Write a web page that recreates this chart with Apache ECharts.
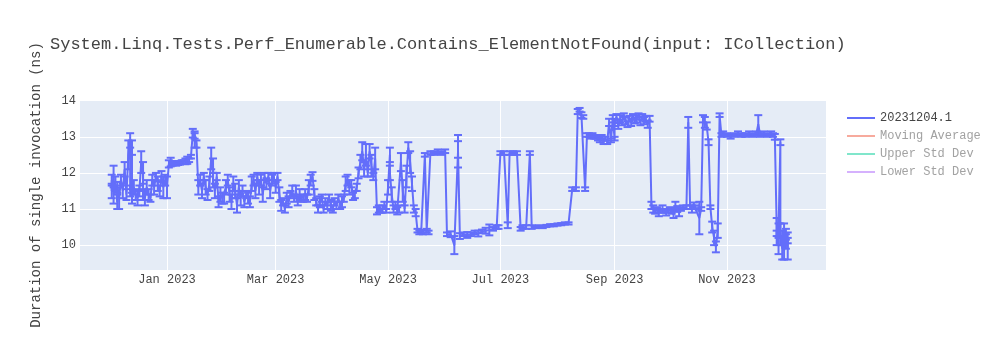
<!DOCTYPE html>
<html><head><meta charset="utf-8">
<script src="https://cdn.jsdelivr.net/npm/echarts@6/dist/echarts.min.js"></script>
<style>html,body{margin:0;padding:0;background:#fff}#c{width:1000px;height:350px}</style>
</head><body><div id="c"></div>
<script>
const dates = [
'2022-12-02','2022-12-02','2022-12-03','2022-12-03','2022-12-04','2022-12-05','2022-12-05','2022-12-06','2022-12-07','2022-12-08','2022-12-09','2022-12-10','2022-12-11','2022-12-12','2022-12-12','2022-12-13','2022-12-13','2022-12-14','2022-12-15','2022-12-16','2022-12-17','2022-12-18','2022-12-19','2022-12-19','2022-12-20','2022-12-21','2022-12-22','2022-12-23','2022-12-24','2022-12-25','2022-12-26','2022-12-27','2022-12-28','2022-12-29','2022-12-30','2022-12-31',
'2023-01-01','2023-01-02','2023-01-03','2023-01-04','2023-01-05','2023-01-06','2023-01-07','2023-01-08','2023-01-09','2023-01-10','2023-01-11','2023-01-12','2023-01-13','2023-01-14','2023-01-15','2023-01-16','2023-01-16','2023-01-17','2023-01-18','2023-01-19','2023-01-20','2023-01-21','2023-01-22','2023-01-23','2023-01-24','2023-01-25','2023-01-26','2023-01-26','2023-01-27','2023-01-28','2023-01-29','2023-01-30','2023-01-31',
'2023-02-01','2023-02-02','2023-02-03','2023-02-04','2023-02-05','2023-02-06','2023-02-07','2023-02-08','2023-02-09','2023-02-10','2023-02-11','2023-02-12','2023-02-13','2023-02-14','2023-02-15','2023-02-16','2023-02-17','2023-02-18','2023-02-19','2023-02-20','2023-02-21','2023-02-22','2023-02-23','2023-02-24','2023-02-25','2023-02-26','2023-02-27','2023-02-28',
'2023-03-01','2023-03-02','2023-03-03','2023-03-04','2023-03-05','2023-03-06','2023-03-07','2023-03-08','2023-03-09','2023-03-10','2023-03-11','2023-03-12','2023-03-13','2023-03-14','2023-03-15','2023-03-16','2023-03-17','2023-03-18','2023-03-19','2023-03-20','2023-03-21','2023-03-22','2023-03-23','2023-03-24','2023-03-25','2023-03-26','2023-03-27','2023-03-28','2023-03-29','2023-03-30','2023-03-31',
'2023-04-01','2023-04-02','2023-04-03','2023-04-04','2023-04-05','2023-04-06','2023-04-07','2023-04-08','2023-04-09','2023-04-10','2023-04-11','2023-04-12','2023-04-13','2023-04-14','2023-04-15','2023-04-16','2023-04-17','2023-04-18','2023-04-19','2023-04-20','2023-04-21','2023-04-22','2023-04-23','2023-04-24','2023-04-25','2023-04-26','2023-04-27','2023-04-28','2023-04-29','2023-04-30',
'2023-05-01','2023-05-02','2023-05-02','2023-05-03','2023-05-04','2023-05-05','2023-05-06','2023-05-07','2023-05-08','2023-05-09','2023-05-10','2023-05-11','2023-05-12','2023-05-13','2023-05-14','2023-05-15','2023-05-16','2023-05-17','2023-05-18','2023-05-19','2023-05-20','2023-05-21','2023-05-22','2023-05-23','2023-05-24','2023-05-26','2023-05-28','2023-05-30',
'2023-06-01','2023-06-02','2023-06-04','2023-06-06','2023-06-08','2023-06-08','2023-06-09','2023-06-11','2023-06-13','2023-06-15','2023-06-17','2023-06-19','2023-06-21','2023-06-23','2023-06-25','2023-06-27','2023-06-29','2023-06-30',
'2023-07-01','2023-07-03','2023-07-05','2023-07-06','2023-07-08','2023-07-10','2023-07-12','2023-07-13','2023-07-15','2023-07-17','2023-07-18','2023-07-20','2023-07-22','2023-07-24','2023-07-26','2023-07-28','2023-07-30',
'2023-08-01','2023-08-03','2023-08-05','2023-08-07','2023-08-09','2023-08-11','2023-08-12','2023-08-13','2023-08-14','2023-08-15','2023-08-16','2023-08-17','2023-08-18','2023-08-19','2023-08-20','2023-08-21','2023-08-22','2023-08-23','2023-08-24','2023-08-25','2023-08-26','2023-08-27','2023-08-28','2023-08-29','2023-08-30','2023-08-31',
'2023-09-01','2023-09-01','2023-09-02','2023-09-03','2023-09-04','2023-09-05','2023-09-06','2023-09-07','2023-09-08','2023-09-09','2023-09-10','2023-09-11','2023-09-12','2023-09-13','2023-09-14','2023-09-15','2023-09-16','2023-09-17','2023-09-18','2023-09-19','2023-09-20','2023-09-21','2023-09-22','2023-09-23','2023-09-24','2023-09-25','2023-09-26','2023-09-27','2023-09-28','2023-09-29','2023-09-30',
'2023-10-01','2023-10-02','2023-10-03','2023-10-04','2023-10-05','2023-10-06','2023-10-07','2023-10-08','2023-10-10','2023-10-11','2023-10-12','2023-10-13','2023-10-14','2023-10-15','2023-10-17','2023-10-18','2023-10-19','2023-10-20','2023-10-21','2023-10-22','2023-10-23','2023-10-24','2023-10-25','2023-10-26','2023-10-27','2023-10-28','2023-10-29','2023-10-30',
'2023-11-01','2023-11-03','2023-11-05','2023-11-07','2023-11-09','2023-11-11','2023-11-13','2023-11-15','2023-11-17','2023-11-18','2023-11-19','2023-11-21','2023-11-23','2023-11-25','2023-11-26','2023-11-27','2023-11-28','2023-11-28','2023-11-29','2023-11-29','2023-11-30','2023-11-30',
'2023-12-01','2023-12-01','2023-12-02','2023-12-02','2023-12-03','2023-12-03','2023-12-04','2023-12-04'
];
const values = [
11.8,11.5,11.9,11.4,11.7,11.2,11.6,11.3,11.8,11.5,12.1,11.4,12.5,12.9,11.5,12.7,11.3,11.6,11.4,11.3,11.5,12.3,12.0,11.4,11.3,11.6,11.4,11.3,11.8,11.6,11.9,11.7,11.5,11.9,11.6,11.8,
11.6,12.25,12.3,12.25,12.28,12.25,12.27,12.28,12.3,12.3,12.32,12.35,12.35,12.45,13.1,12.9,13.05,12.8,11.6,11.8,11.5,11.9,11.6,11.4,11.7,12.4,12.2,11.8,11.5,11.9,11.2,11.4,11.3,
11.3,11.6,11.8,11.4,11.2,11.7,11.5,11.1,11.6,11.3,11.5,11.2,11.4,11.3,11.2,11.7,11.8,11.5,11.9,11.6,11.8,11.4,11.9,11.7,11.9,11.5,11.8,11.9,
11.6,11.9,11.4,11.1,11.2,11.0,11.3,11.2,11.4,11.5,11.3,11.5,11.2,11.4,11.3,11.3,11.4,11.3,11.6,11.8,11.9,11.4,11.2,11.0,11.2,11.3,11.0,11.2,11.1,11.3,11.1,
11.0,11.2,11.1,11.3,11.1,11.2,11.3,11.7,11.8,11.6,11.7,11.35,11.4,11.6,12.0,12.3,12.6,12.1,12.5,12.0,12.6,12.2,11.9,12.4,10.95,11.0,10.95,11.0,11.1,10.95,
11.6,12.5,12.0,11.4,11.0,11.1,10.95,11.0,12.3,11.5,11.0,11.9,12.7,12.3,11.7,11.0,10.9,10.4,10.35,10.37,10.35,12.5,10.4,10.35,12.55,12.55,12.6,12.55,
12.6,10.3,10.3,10.0,12.6,12.65,10.25,10.3,10.28,10.3,10.35,10.32,10.38,10.4,10.42,10.45,10.5,10.5,
12.55,12.55,10.55,12.55,12.55,12.55,10.45,10.5,10.5,12.55,10.5,10.5,10.52,10.5,10.53,10.55,10.55,
10.57,10.58,10.6,10.6,11.55,11.55,13.7,13.75,13.6,13.55,11.55,13.05,13.05,13.0,13.05,13.0,13.0,12.95,12.9,13.0,12.85,12.95,12.85,13.4,12.9,13.5,
12.95,13.4,13.55,13.3,13.5,13.4,13.6,13.45,13.35,13.5,13.4,13.55,13.45,13.5,13.6,13.4,13.55,13.45,13.5,13.35,13.5,11.1,11.0,10.95,11.0,10.9,10.95,11.0,10.95,10.9,10.95,
11.0,10.95,10.85,11.1,11.0,10.9,11.0,11.05,11.05,13.4,11.05,11.0,11.1,11.05,10.75,11.0,13.5,13.4,13.3,12.85,11.05,10.5,10.2,9.95,10.4,13.6,13.05,13.1,
13.05,13.0,13.05,13.1,13.05,13.05,13.1,13.05,13.1,13.35,13.05,13.1,13.05,13.1,13.05,13.0,10.5,10.2,10.0,10.4,12.85,10.3,
9.9,10.2,10.4,9.85,10.1,10.3,9.9,10.2
];
const errors = [
0.15,0.2,0.3,0.25,0.2,0.2,0.15,0.3,0.15,0.2,0.2,0.15,0.4,0.2,0.15,0.2,0.15,0.2,0.15,0.2,0.15,0.3,0.3,0.15,0.2,0.2,0.15,0.1,0.15,0.2,0.1,0.2,0.15,0.15,0.3,0.15,
0.3,0.1,0.12,0.05,0.05,0.05,0.05,0.05,0.05,0.05,0.08,0.1,0.05,0.05,0.12,0.2,0.1,0.1,0.2,0.15,0.2,0.1,0.2,0.15,0.2,0.3,0.2,0.2,0.2,0.1,0.15,0.2,0.15,
0.15,0.2,0.15,0.2,0.2,0.2,0.2,0.2,0.2,0.2,0.15,0.15,0.1,0.15,0.15,0.2,0.15,0.2,0.1,0.2,0.15,0.2,0.1,0.15,0.1,0.2,0.15,0.1,
0.15,0.1,0.2,0.15,0.1,0.1,0.15,0.15,0.1,0.15,0.1,0.15,0.1,0.15,0.1,0.1,0.15,0.1,0.2,0.15,0.12,0.15,0.1,0.1,0.15,0.1,0.1,0.1,0.1,0.1,0.15,
0.1,0.1,0.1,0.1,0.1,0.15,0.1,0.2,0.15,0.2,0.1,0.1,0.1,0.1,0.15,0.2,0.25,0.2,0.3,0.1,0.2,0.3,0.1,0.3,0.1,0.1,0.05,0.1,0.1,0.05,
0.2,0.2,0.2,0.2,0.1,0.1,0.1,0.1,0.25,0.3,0.1,0.3,0.15,0.3,0.2,0.1,0.1,0.05,0.05,0.05,0.05,0.05,0.05,0.05,0.05,0.05,0.05,0.05,
0.05,0.05,0.08,0.25,0.45,0.23,0.08,0.05,0.08,0.05,0.05,0.08,0.05,0.08,0.15,0.05,0.05,0.05,
0.05,0.05,0.08,0.05,0.05,0.05,0.05,0.05,0.05,0.05,0.05,0.03,0.03,0.03,0.03,0.03,0.03,
0.03,0.03,0.03,0.03,0.05,0.05,0.07,0.05,0.08,0.05,0.05,0.05,0.05,0.05,0.05,0.05,0.05,0.05,0.05,0.05,0.05,0.05,0.05,0.1,0.05,0.1,
0.05,0.1,0.08,0.08,0.1,0.08,0.05,0.1,0.08,0.08,0.1,0.08,0.08,0.1,0.05,0.08,0.08,0.1,0.08,0.1,0.08,0.1,0.1,0.08,0.05,0.1,0.05,0.1,0.05,0.08,0.05,
0.05,0.08,0.1,0.1,0.08,0.1,0.05,0.05,0.05,0.15,0.05,0.1,0.08,0.05,0.45,0.05,0.1,0.15,0.1,0.08,0.05,0.15,0.2,0.15,0.2,0.05,0.05,0.05,
0.05,0.05,0.05,0.05,0.05,0.05,0.05,0.05,0.05,0.25,0.05,0.05,0.05,0.05,0.05,0.08,0.25,0.2,0.25,0.2,0.08,0.3,
0.3,0.2,0.2,0.25,0.2,0.15,0.3,0.15
];
const xTickDates = ['2023-01-01','2023-03-01','2023-05-01','2023-07-01','2023-09-01','2023-11-01'];
const xTickLabels = ['Jan 2023','Mar 2023','May 2023','Jul 2023','Sep 2023','Nov 2023'];
const yTicks = [10, 11, 12, 13, 14];
const legendNames = ['20231204.1', 'Moving Average', 'Upper Std Dev', 'Lower Std Dev'];
const legendColors = ['#636efa', '#f7aa9d', '#80e6cb', '#d5b1fd'];
const legendTextColors = ['#444444', '#a2a2a2', '#a2a2a2', '#a2a2a2'];
const titleText = 'System.Linq.Tests.Perf_Enumerable.Contains_ElementNotFound(input: ICollection)';
const yTitle = 'Duration of single invocation (ns)';

const FONT = '"Liberation Mono", "Courier New", monospace';
const ts = s => Date.parse(s);
const xTickVals = xTickDates.map(ts);
const lineData = dates.map((d, i) => [ts(d), values[i]]);
const errData = dates.map((d, i) => [ts(d), values[i] - errors[i], values[i] + errors[i]]);

const chart = echarts.init(document.getElementById('c'), null, {renderer: 'canvas'});
chart.setOption({
  animation: false,
  backgroundColor: '#ffffff',
  title: {
    text: titleText, left: 50, top: 36, padding: 0,
    textStyle: {fontFamily: FONT, fontSize: 17, fontWeight: 'normal', color: '#444'}
  },
  legend: {
    orient: 'vertical', left: 847, top: 111, padding: 0,
    itemWidth: 28, itemHeight: 2, itemGap: 4, icon: 'rect',
    textStyle: {fontFamily: FONT, fontSize: 12, color: '#444', lineHeight: 14},
    data: legendNames.map((n, i) => ({name: n, itemStyle: {color: legendColors[i]}, textStyle: {color: legendTextColors[i]}}))
  },
  grid: {left: 80, right: 174, top: 100, bottom: 80, show: true, backgroundColor: '#e5ecf6', borderWidth: 0, containLabel: false},
  xAxis: {
    type: 'value', min: Date.UTC(2022, 10, 14, 18, 30), max: Date.UTC(2023, 11, 24, 18, 30),
    axisLine: {show: false},
    axisTick: {show: false, customValues: xTickVals},
    axisLabel: {
      customValues: xTickVals, margin: 4,
      fontFamily: FONT, fontSize: 12, color: '#444',
      formatter: v => xTickLabels[xTickVals.indexOf(v)] || ''
    },
    splitLine: {show: true, lineStyle: {color: '#ffffff', width: 1}}
  },
  yAxis: {
    type: 'value', min: 9.31, max: 14.02,
    name: yTitle, nameLocation: 'middle', nameGap: 37,
    nameTextStyle: {fontFamily: FONT, fontSize: 14, color: '#444'},
    axisLine: {show: false},
    axisTick: {show: false, customValues: yTicks},
    axisLabel: {customValues: yTicks, margin: 4, fontFamily: FONT, fontSize: 12, color: '#444'},
    splitLine: {show: true, lineStyle: {color: '#ffffff', width: 1}}
  },
  series: [
    {
      name: legendNames[0], type: 'line', data: lineData, showSymbol: false, symbol: 'none',
      lineStyle: {color: '#636efa', width: 2}, itemStyle: {color: '#636efa'}, z: 3
    },
    {
      name: legendNames[0], type: 'custom', data: errData, encode: {x: 0, y: [1, 2]}, z: 2,
      renderItem: function (params, api) {
        const x = api.value(0);
        const pLo = api.coord([x, api.value(1)]);
        const pHi = api.coord([x, api.value(2)]);
        const w = 4;
        const style = {stroke: '#636efa', lineWidth: 2, fill: null};
        return {type: 'group', children: [
          {type: 'line', shape: {x1: pLo[0], y1: pLo[1], x2: pHi[0], y2: pHi[1]}, style: style},
          {type: 'line', shape: {x1: pLo[0] - w, y1: pLo[1], x2: pLo[0] + w, y2: pLo[1]}, style: style},
          {type: 'line', shape: {x1: pHi[0] - w, y1: pHi[1], x2: pHi[0] + w, y2: pHi[1]}, style: style}
        ]};
      }
    },
    {name: legendNames[1], type: 'line', data: [], lineStyle: {color: legendColors[1]}, itemStyle: {color: legendColors[1]}},
    {name: legendNames[2], type: 'line', data: [], lineStyle: {color: legendColors[2]}, itemStyle: {color: legendColors[2]}},
    {name: legendNames[3], type: 'line', data: [], lineStyle: {color: legendColors[3]}, itemStyle: {color: legendColors[3]}}
  ]
});
</script></body></html>
